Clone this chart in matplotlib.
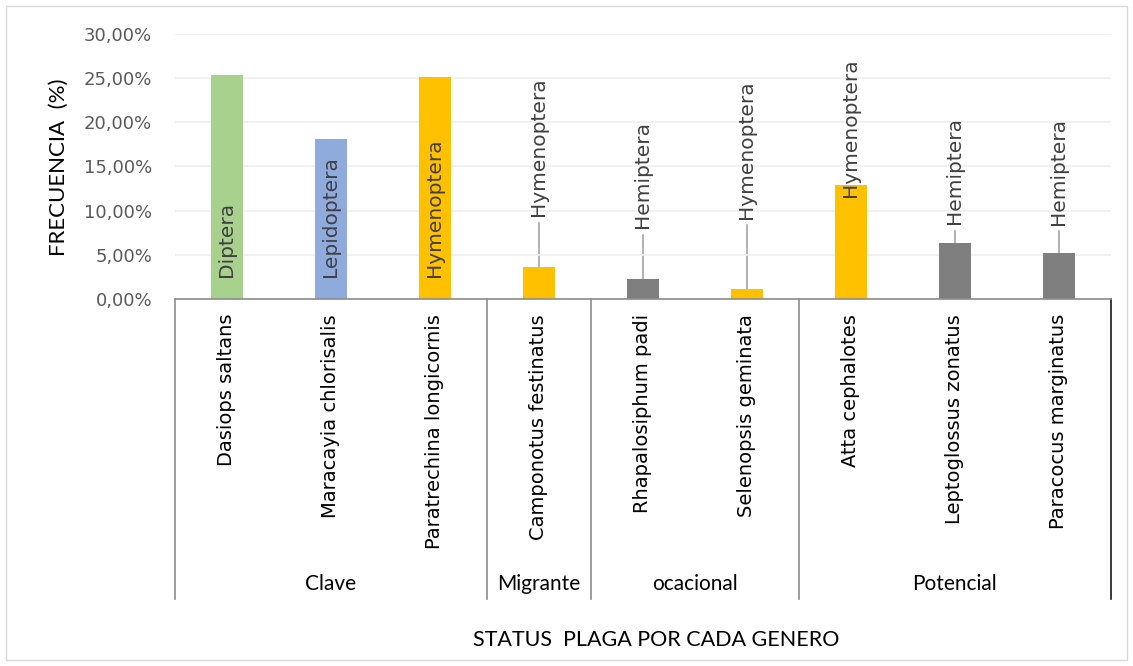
import matplotlib
matplotlib.use("Agg")
import matplotlib.pyplot as plt
import matplotlib.transforms as mtransforms
from matplotlib.patches import Rectangle
from matplotlib.ticker import FuncFormatter

# Data
species = ["Dasiops saltans", "Maracayia chlorisalis", "Paratrechina longicornis",
           "Camponotus festinatus", "Rhapalosiphum padi", "Selenopsis geminata",
           "Atta cephalotes", "Leptoglossus zonatus", "Paracocus marginatus"]
orders = ["Diptera", "Lepidoptera", "Hymenoptera", "Hymenoptera", "Hemiptera",
          "Hymenoptera", "Hymenoptera", "Hemiptera", "Hemiptera"]
freq = [25.4, 18.1, 25.1, 3.6, 2.3, 1.1, 12.95, 6.35, 5.2]
groups = ["Clave", "Migrante", "ocacional", "Potencial"]
group_sizes = [3, 1, 2, 3]

order_colors = {"Diptera": "#a9d18e", "Lepidoptera": "#8faadc",
                "Hymenoptera": "#ffc000", "Hemiptera": "#7f7f7f"}
# label placement: None = inside base, else height (%) where the label starts
label_y = [None, None, None, 9.4, 8.0, 9.1, 11.55, 8.5, 8.4]

plt.rcParams['font.family'] = ['DejaVu Sans']

W, H = 1133, 666
fig = plt.figure(figsize=(W / 100, H / 100), dpi=100)
ax = fig.add_axes([175 / W, 1 - 299 / H, (1111 - 175) / W, (299 - 34) / H])

x = list(range(len(species)))
colors = [order_colors[o] for o in orders]
ax.bar(x, freq, width=0.3, color=colors, zorder=2)

ax.set_xlim(-0.5, len(species) - 0.5)
ax.set_ylim(0, 30)
ax.set_yticks(range(0, 31, 5))
ax.yaxis.set_major_formatter(FuncFormatter(lambda v, p: f"{v:.2f}%".replace(".", ",")))
ax.tick_params(axis="y", length=0, pad=16.5, labelsize=13, labelcolor="#595959")
ax.set_xticks([])
ax.grid(axis="y", color="#efefef", linewidth=1.2, zorder=0)
for s in ["top", "right", "left"]:
    ax.spines[s].set_visible(False)
ax.spines["bottom"].set_color("#8c8c8c")
ax.spines["bottom"].set_linewidth(1.2)
ax.spines["bottom"].set_zorder(3)

# data labels
for i in x:
    if label_y[i] is None:
        ax.annotate(orders[i], (i, 0), xytext=(0, 16), textcoords="offset points",
                    rotation=90, ha="center", va="bottom", fontsize=14.5,
                    color="#404040", zorder=4)
    else:
        ax.text(i, label_y[i], orders[i], rotation=90, ha="center", va="bottom",
                fontsize=14.5, color="#404040", zorder=4)
        if label_y[i] - 0.75 > freq[i]:
            ax.plot([i, i], [freq[i], label_y[i] - 0.75], color="#a6a6a6",
                    linewidth=1.2, zorder=1)

# multi-level category axis below the plot
trans = mtransforms.blended_transform_factory(ax.transData, fig.transFigure)
for i, name in enumerate(species):
    ax.text(i, 1 - 314 / H, name, transform=trans, rotation=90, ha="center",
            va="top", fontsize=14, color="#000000", clip_on=False)

edges = [-0.5]
for n in group_sizes:
    edges.append(edges[-1] + n)
for k, e in enumerate(edges):
    c = "#1a1a1a" if k == len(edges) - 1 else "#8c8c8c"
    ax.plot([e, e], [1 - 299 / H, 1 - 599 / H], transform=trans, color=c,
            linewidth=1.2, clip_on=False)
for g, a, b in zip(groups, edges[:-1], edges[1:]):
    ax.text((a + b) / 2, 1 - 584 / H, g, transform=trans, ha="center",
            va="center", fontsize=15, family="Lato", color="#000000")

fig.text(59 / W, 1 - 167 / H, "FRECUENCIA  (%)", rotation=90, ha="center",
         va="center", fontsize=16, family="Lato", color="#000000")
fig.text(656 / W, 1 - 640 / H, "STATUS  PLAGA POR CADA GENERO", ha="center",
         va="center", fontsize=15.5, family="Lato", color="#000000")

fig.patches.append(Rectangle((6 / W, 6 / H), 1121 / W, 654 / H, transform=fig.transFigure,
                             fill=False, edgecolor="#d9d9d9", linewidth=1))

fig.savefig("out.png", dpi=100)
